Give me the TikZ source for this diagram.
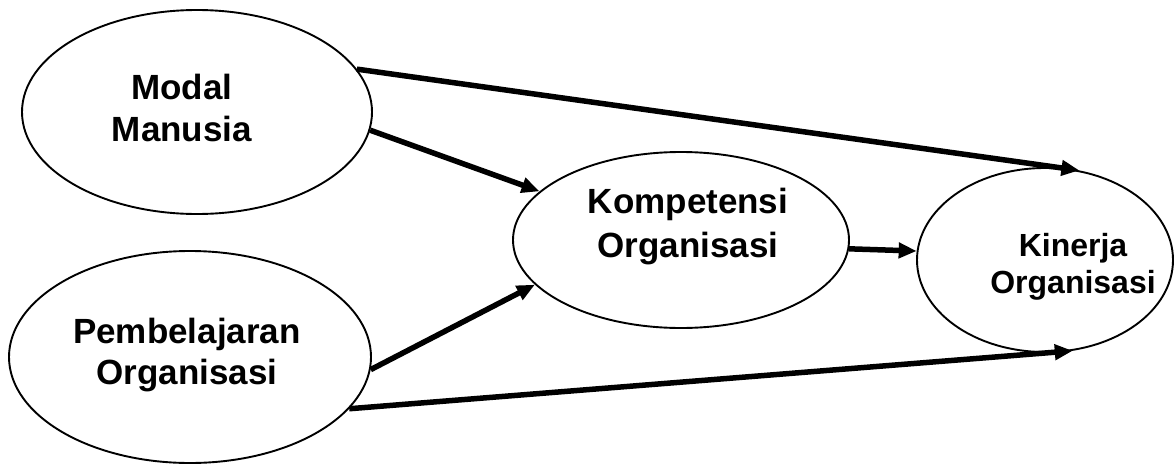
\documentclass[tikz,border=0pt]{standalone}
\usepackage{fontspec}
\setmainfont{Liberation Sans}
\usetikzlibrary{arrows.meta,shapes.geometric}
\begin{document}
\begin{tikzpicture}[x=1pt,y=-1pt,
  var/.style={draw, ellipse, line width=1.9pt, inner sep=0pt},
  lbl/.style={align=center, inner sep=0pt, font=\fontsize{35}{42}\selectfont\bfseries},
  path/.style={line width=5.5pt, -{Triangle[length=18pt,width=15pt]}}]
  \useasboundingbox (0,0) rectangle (1174,463);

  % variables
  \node[var, minimum width=350pt, minimum height=204pt] (modal) at (197,112) {};
  \node[var, minimum width=362pt, minimum height=212pt] (pemb)  at (190,357) {};
  \node[var, minimum width=336pt, minimum height=176pt] (komp)  at (681,240) {};
  \node[var, minimum width=256pt, minimum height=184pt] (kin)   at (1045,260) {};

  % labels
  \node[lbl] (tmodal) at (182,108) {Modal\\Manusia};
  \node[lbl, font=\fontsize{35}{41}\selectfont\bfseries] (tpemb) at (187,355) {Pembelajaran\\Organisasi};
  \node[lbl, font=\fontsize{35}{44}\selectfont\bfseries] (tkomp) at (688,227) {Kompetensi\\Organisasi};
  \node[lbl, font=\fontsize{32}{37}\selectfont\bfseries] (tkin) at (1073,267) {Kinerja\\Organisasi};

  % paths
  \draw[path] (modal.15)  -- (kin.69);
  \draw[path] (modal.-6)  -- (komp.161);
  \draw[path] (pemb.-4)   -- (komp.197);
  \draw[path] (pemb.-18)  -- (kin.-73);
  \draw[path] (komp.-3)   -- (kin.176);
\end{tikzpicture}
\end{document}
